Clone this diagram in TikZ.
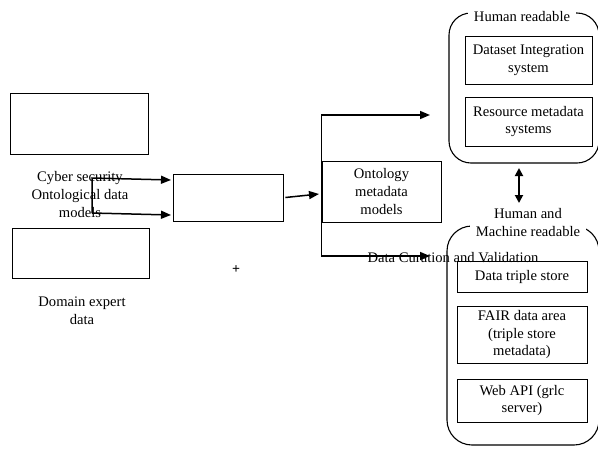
\documentclass[tikz,border=0pt]{standalone}
\usepackage{fontspec}
\setmainfont{Liberation Serif}
\usetikzlibrary{arrows.meta}
\begin{document}
\begin{tikzpicture}[x=1pt,y=-1pt,
  font=\fontsize{14.6}{17.8}\selectfont,
  box/.style={draw=black,line width=0.8pt,inner sep=0pt,align=center},
  container/.style={draw=black,line width=1.1pt,rounded corners=22pt,inner sep=0pt},
  lbl/.style={align=center,inner sep=0pt},
  ttl/.style={align=center,fill=white,inner xsep=6pt,inner ysep=1pt},
  arr/.style={line width=1.5pt,-{Triangle[length=10pt,width=8pt]}},
  darr/.style={line width=1.8pt,{Triangle[length=8pt,width=8pt]}-{Triangle[length=8pt,width=8pt]}}]
\useasboundingbox (0,0) rectangle (598,448);
% left side
\node[box,minimum width=138pt,minimum height=61pt] (b1) at (79,123.5) {};
\node[box,minimum width=137pt,minimum height=50pt] (b2) at (80.5,253) {};
\node[lbl] (l1) at (80,194.5) {Cyber security\\Ontological data\\models};
\node[lbl] (l2) at (82,311) {Domain expert\\data};
\node[box,minimum width=110pt,minimum height=47pt] (cb) at (228,197.5) {};
\node[lbl,font=\fontsize{14}{16}\bfseries] (plus) at (236,270) {+};
\coordinate (j1) at (92,178);
\coordinate (j2) at (92,213);
\coordinate (t1) at (171,180);
\coordinate (t2) at (171,215);
\draw[arr] (j2) -- (j1) -- (t1);
\draw[arr] (j2) -- (t2);
% ontology
\node[box,minimum width=119pt,minimum height=61pt] (onto) at (381.5,191.5) {Ontology\\metadata\\models};
\coordinate (ct) at (319,194);
\draw[arr] ([xshift=2pt]cb.east) -- (ct);
\coordinate (ou) at (430,115);
\coordinate (od) at (430,256);
\draw[arr] (onto.west) |- (ou);
\draw[arr] (onto.west) |- (od);
% top container
\node[container,minimum width=150pt,minimum height=150pt] (tc) at (524,88) {};
\node[box,minimum width=127pt,minimum height=48pt] (dis) at (528.5,60) {Dataset Integration\\system};
\node[box,minimum width=127pt,minimum height=49pt] (rms) at (528.5,121.5) {Resource metadata\\systems};
\node[ttl] (t1ttl) at (522,17) {Human readable};
% bottom container
\node[container,rounded corners=25pt,minimum width=152pt,minimum height=219pt] (bc) at (523,335.5) {};
\node[ttl] (t2ttl) at (528,222.5) {Human and\\Machine readable};
\node[box,minimum width=130pt,minimum height=31pt] (dts) at (522,276.5) {Data triple store};
\node[box,minimum width=130pt,minimum height=57pt] (fair) at (522,334.5) {FAIR data area\\(triple store\\metadata)};
\node[box,minimum width=130pt,minimum height=43pt] (web) at (522,400.5) {Web API (grlc\\server)};
% double arrow
\coordinate (da1) at (519,168);
\coordinate (da2) at (519,203);
\draw[darr] (da1) -- (da2);
% curation label
\node[lbl] (cur) at (453,258) {Data Curation and Validation};
\end{tikzpicture}
\end{document}
